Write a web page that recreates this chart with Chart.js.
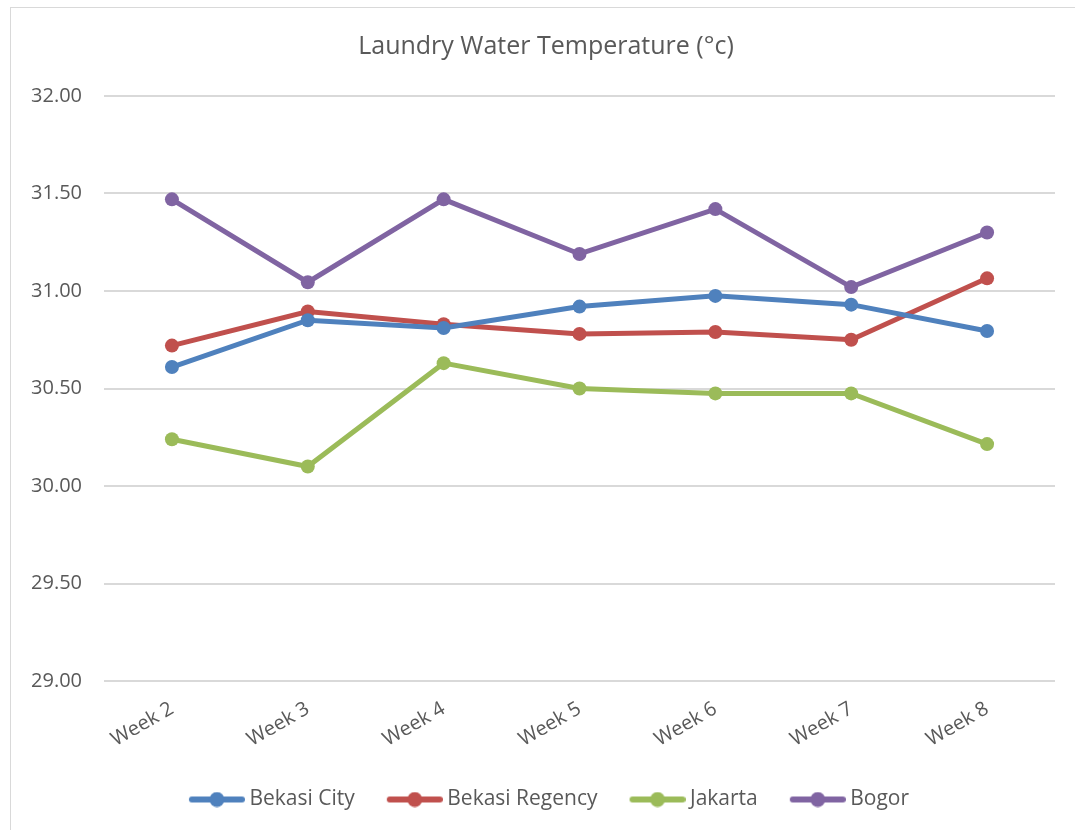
<!DOCTYPE html>
<html>
<head>
<meta charset="utf-8">
<script src="https://cdn.jsdelivr.net/npm/chart.js@4"></script>
<style>
  html, body { margin: 0; padding: 0; background: #fff; overflow: hidden; }
  #frame { position: absolute; left: 10px; top: 7px; width: 1070px; height: 830px; border: 1px solid #d9d9d9; }
</style>
</head>
<body>
<div id="frame"><canvas id="chart"></canvas></div>
<script>
const weeks = ["Week 2", "Week 3", "Week 4", "Week 5", "Week 6", "Week 7", "Week 8"];
const bekasiCity = [30.61, 30.85, 30.81, 30.92, 30.975, 30.93, 30.795];
const bekasiRegency = [30.72, 30.895, 30.83, 30.78, 30.79, 30.75, 31.065];
const jakarta = [30.24, 30.10, 30.63, 30.50, 30.475, 30.475, 30.215];
const bogor = [31.47, 31.045, 31.47, 31.19, 31.42, 31.02, 31.30];

const titleText = "Laundry Water Temperature (°c)";
const textColor = "#595959";
const font = "'Open Sans', sans-serif";

// legend marker: short line with a dot in the middle.
// image is a bit wider than the legend box so the text sits close to it
function legendMark(color) {
  const c = document.createElement("canvas");
  c.width = 62; c.height = 16;
  const g = c.getContext("2d");
  g.strokeStyle = color;
  g.lineWidth = 6;
  g.lineCap = "round";
  g.beginPath(); g.moveTo(9, 8); g.lineTo(59, 8); g.stroke();
  g.fillStyle = color;
  g.beginPath(); g.arc(34, 8, 7.5, 0, Math.PI * 2); g.fill();
  return c;
}

function ds(label, data, color) {
  return {
    label, data,
    borderColor: color, backgroundColor: color,
    borderWidth: 5, pointRadius: 7, pointHoverRadius: 7,
    pointBackgroundColor: color, pointBorderWidth: 0,
    tension: 0, fill: false,
    legendMark: legendMark(color),
  };
}

// the title block keeps its space, but the text is centred on the whole canvas;
// the legend is nudged the same way
const centredTitle = {
  id: "centredTitle",
  afterLayout(chart) {
    chart.legend.left += 16;
    chart.legend.right += 16;
  },
  afterDraw(chart) {
    const t = chart.titleBlock;
    const ctx = chart.ctx;
    ctx.save();
    ctx.font = `25px ${font}`;
    ctx.fillStyle = textColor;
    ctx.textAlign = "center";
    ctx.textBaseline = "middle";
    ctx.fillText(titleText, chart.width / 2, t.top + t.height / 2 - 17);
    ctx.restore();
  },
};

new Chart(document.getElementById("chart"), {
  type: "line",
  data: {
    labels: weeks,
    datasets: [
      ds("Bekasi City", bekasiCity, "#4f81bd"),
      ds("Bekasi Regency", bekasiRegency, "#c0504d"),
      ds("Jakarta", jakarta, "#9bbb59"),
      ds("Bogor", bogor, "#8064a2"),
    ],
  },
  plugins: [centredTitle],
  options: {
    responsive: true,
    maintainAspectRatio: false,
    animation: false,
    layout: { padding: { left: 0, right: 26, top: 23, bottom: 18 } },
    scales: {
      y: {
        min: 29, max: 32,
        afterFit: (s) => { s.width = 93; },
        ticks: {
          stepSize: 0.5, padding: 22, color: textColor,
          font: { family: font, size: 20 },
          callback: (v) => Number(v).toFixed(2),
        },
        grid: { color: "#d9d9d9", lineWidth: 2, drawTicks: false },
        border: { display: false },
      },
      x: {
        offset: true,
        afterFit: (s) => { s.height = 76; },
        ticks: {
          color: textColor, minRotation: 30, maxRotation: 30, padding: 16,
          font: { family: font, size: 20 },
        },
        grid: { display: false, drawTicks: false },
        border: { display: false },
      },
    },
    plugins: {
      title: {
        display: true,
        text: titleText,
        color: "rgba(0,0,0,0)",
        font: { family: font, size: 25, weight: "normal" },
        padding: { top: 0, bottom: 35 },
      },
      legend: {
        position: "bottom",
        labels: {
          color: textColor,
          font: { family: font, size: 21 },
          usePointStyle: true,
          pointStyleWidth: 50,
          padding: 32,
          generateLabels: (chart) => chart.data.datasets.map((d, i) => ({
            text: d.label,
            pointStyle: d.legendMark,
            fillStyle: d.borderColor,
            strokeStyle: d.borderColor,
            lineWidth: 0,
            fontColor: textColor,
            datasetIndex: i,
            hidden: false,
          })),
        },
      },
      tooltip: { enabled: false },
    },
  },
});
</script>
</body>
</html>
